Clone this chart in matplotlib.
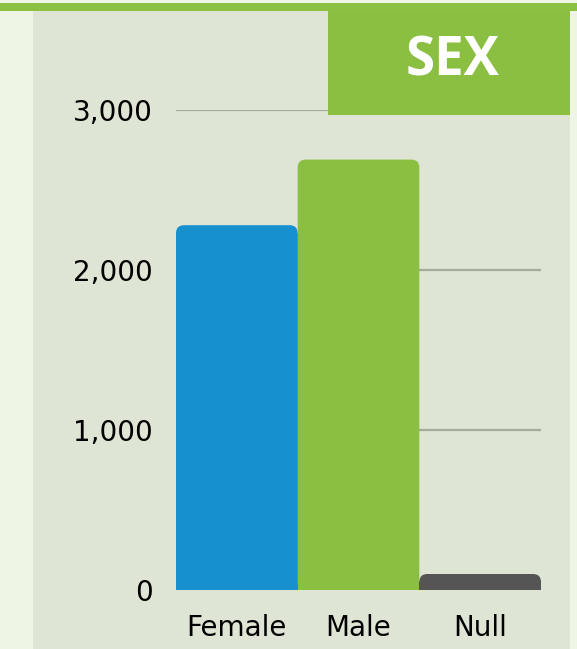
import matplotlib
matplotlib.use("Agg")
import matplotlib.pyplot as plt
from matplotlib.patches import Rectangle, FancyBboxPatch

# datos
categorias = ["Female", "Male", "Null"]
valores = [2280, 2690, 100]
colores = ["#1790cf", "#8bbf42", "#555555"]
ticks_y = [0, 1000, 2000, 3000]
etiquetas_y = ["0", "1,000", "2,000", "3,000"]
titulo = "SEX"

W, H = 577, 649
fig = plt.figure(figsize=(W / 100, H / 100), dpi=100)
fig.patch.set_facecolor("#eef5e4")

def px(x0, y0, x1, y1):
    # caja en pixeles (origen arriba a la izquierda) -> coords de figura
    return (x0 / W, 1 - y1 / H, (x1 - x0) / W, (y1 - y0) / H)

# panel y franja superior
x, y, w, h = px(33, 11, 570, 649)
fig.patches.append(Rectangle((x, y), w, h, transform=fig.transFigure,
                             facecolor="#dfe5d5", edgecolor="none", zorder=-2))
x, y, w, h = px(0, 3, W, 11)
fig.patches.append(Rectangle((x, y), w, h, transform=fig.transFigure,
                             facecolor="#8bc043", edgecolor="none", zorder=-1))

# caja del titulo
x, y, w, h = px(328, 11, 570, 115)
fig.patches.append(Rectangle((x, y), w, h, transform=fig.transFigure,
                             facecolor="#8bbf42", edgecolor="none", zorder=3))
fig.text(452 / W, 1 - 62 / H, titulo, color="white", fontsize=38,
         fontweight="bold", family="Open Sans", ha="center", va="center", zorder=4)

# ejes
ax = fig.add_axes(px(176, 110, 541, 590))
ax.set_facecolor("none")
ax.set_xlim(-0.5, 2.5)
ax.set_ylim(0, 3000)
for s in ax.spines.values():
    s.set_visible(False)

for t in ticks_y[1:]:
    ax.axhline(t, color="#a6aa9e", lw=1.6, zorder=1)

# barras con esquinas superiores redondeadas
rx = 8 / 122.0
ry = 8 / 0.16
for i, v in enumerate(valores):
    p = FancyBboxPatch((i - 0.5, 0), 1.0, v,
                       boxstyle=f"round,pad=0,rounding_size={rx}",
                       mutation_aspect=ry / rx,
                       facecolor=colores[i], edgecolor="none", zorder=2)
    ax.add_patch(p)
    # tapar las esquinas de abajo
    ax.add_patch(Rectangle((i - 0.5, 0), 1.0, max(v - ry, v / 2),
                           facecolor=colores[i], edgecolor="none", zorder=2))

ax.set_xticks(range(len(categorias)))
ax.set_xticklabels(categorias)
ax.set_yticks(ticks_y)
ax.set_yticklabels(etiquetas_y)
ax.tick_params(axis="both", length=0, labelsize=20, colors="black")
ax.tick_params(axis="y", pad=17)
ax.tick_params(axis="x", pad=17)

fig.savefig("out.png", dpi=100, facecolor=fig.get_facecolor())
